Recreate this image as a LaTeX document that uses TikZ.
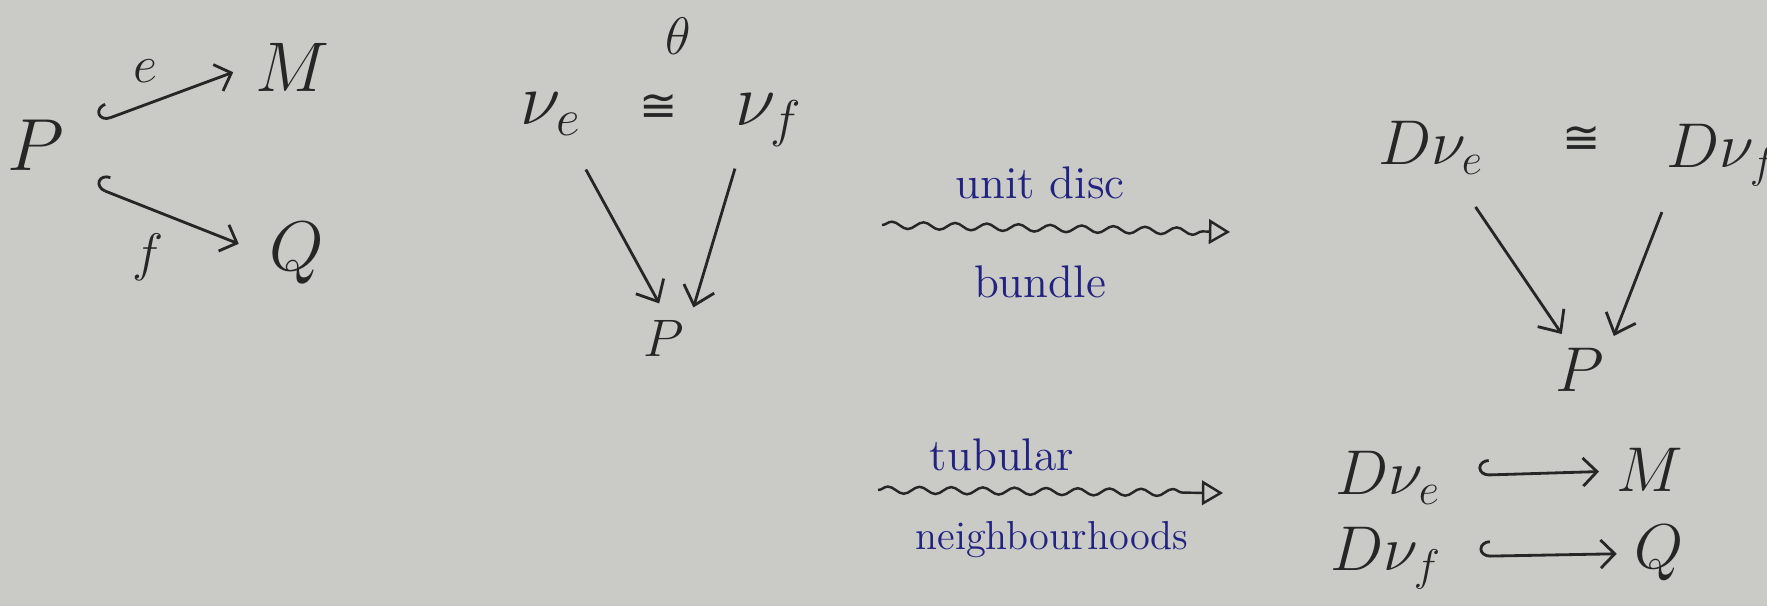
\RequirePackage{fix-cm}
\documentclass[tikz,border=0pt]{standalone}
\usepackage{amsmath}
\usepackage{amssymb}
\usepackage{fontspec}
\usepackage{xcolor}
\usetikzlibrary{arrows.meta, positioning, decorations.pathmorphing}
\newfontfamily\isofont{DejaVu Sans}
\definecolor{paper}{RGB}{202,202,199}
\definecolor{ink}{RGB}{38,38,38}
\definecolor{pen}{RGB}{34,34,128}

\begin{document}
\begin{tikzpicture}[x=0.01cm,y=-0.01cm,
  obj/.style={inner sep=2pt,text=ink,font=\fontsize{18}{22}\selectfont},
  bigobj/.style={obj,font=\fontsize{21}{25}\selectfont},
  smallobj/.style={obj,font=\fontsize{15}{18}\selectfont},
  isoobj/.style={obj,font=\isofont\fontsize{13}{15}\selectfont},
  maplbl/.style={inner sep=2pt,text=ink,font=\fontsize{15}{18}\selectfont},
  pentext/.style={inner sep=2pt,text=pen,font=\fontsize{13}{16}\selectfont},
  arrow/.style={-{Straight Barb[length=5pt,width=9pt]},draw=ink,line width=0.8pt},
  hookarrow/.style={{Hooks[right,length=3pt,width=9pt]}-{Straight Barb[length=4pt,width=8pt]},draw=ink,line width=0.8pt},
  wavy/.style={-{Triangle[open,length=6pt,width=7pt]},draw=ink,line width=0.7pt,
    decorate,decoration={snake,amplitude=1pt,segment length=9pt,post length=7pt}}]
  \useasboundingbox (0,0) rectangle (1767,606);
  \fill[paper] (0,0) rectangle (1767,606);

  % the two embeddings
  \node[bigobj] (P) at (36,145) {$P$};
  \node[obj,font=\fontsize{20}{24}\selectfont] (M) at (292,67) {$M$};
  \node[obj,font=\fontsize{20}{24}\selectfont] (Q) at (297,253) {$Q$};
  \draw[hookarrow,shorten <=0.3cm,shorten >=0.15cm] (P.20) -- node[maplbl,above=4pt,pos=0.42] (e) {$e$} (M.west);
  \draw[hookarrow,shorten <=0.25cm,shorten >=0.25cm] (P.south east) -- node[maplbl,below=5pt,pos=0.4] (f) {$f$} (Q.west);

  % normal bundles over P
  \node[obj,font=\fontsize{21}{25}\selectfont] (nue) at (551,114) {$\nu_e$};
  \node[isoobj] (iso1) at (659,108) {≅};
  \node[smallobj] (theta) at (678,36) {$\theta$};
  \node[obj,font=\fontsize{21}{25}\selectfont] (nuf) at (769,120) {$\nu_f$};
  \node[smallobj] (P2) at (664,338) {$P$};
  \draw[arrow,shorten <=0.3cm,shorten >=0.1cm] (nue.305) -- (P2.north);
  \draw[arrow,shorten <=0.15cm,shorten >=0.05cm] (nuf.229) -- (P2.north east);

  % squiggly arrows
  \coordinate (disc start) at (882,225);
  \coordinate (disc end) at (1230,232);
  \draw[wavy] (disc start) -- (disc end);
  \node[pentext] (unitdisc) at (1040,183) {unit disc};
  \node[pentext] (bundle) at (1040,282) {bundle};
  \coordinate (tube start) at (878,490);
  \coordinate (tube end) at (1223,493);
  \draw[wavy] (tube start) -- (tube end);
  \node[pentext] (tubular) at (1002,455) {tubular};
  \node[pentext,font=\fontsize{11.5}{14}\selectfont] (nbhds) at (1052,540) {neighbourhoods};

  % disc bundles
  \node[obj] (Dnue) at (1431,148) {$D\nu_e$};
  \node[isoobj] (iso2) at (1582,140) {≅};
  \node[obj] (Dnuf) at (1722,155) {$D\nu_f$};
  \node[obj] (P3) at (1580,370) {$P$};
  \draw[arrow,shorten <=0.3cm,shorten >=0.08cm] (Dnue.309) -- (P3.115);
  \draw[arrow,shorten <=0.2cm,shorten >=0.05cm] (Dnuf.216) -- (P3.north east);

  % tubular neighbourhoods
  \node[obj] (Dnue2) at (1388,478) {$D\nu_e$};
  \node[obj] (M2) at (1650,470) {$M$};
  \node[obj] (Dnuf2) at (1386,558) {$D\nu_f$};
  \node[obj] (Q2) at (1659,553) {$Q$};
  \draw[hookarrow,shorten <=0.3cm,shorten >=0.1cm] (Dnue2) -- (M2);
  \draw[hookarrow,shorten <=0.3cm,shorten >=0.1cm] (Dnuf2) -- (Q2);
\end{tikzpicture}
\end{document}
